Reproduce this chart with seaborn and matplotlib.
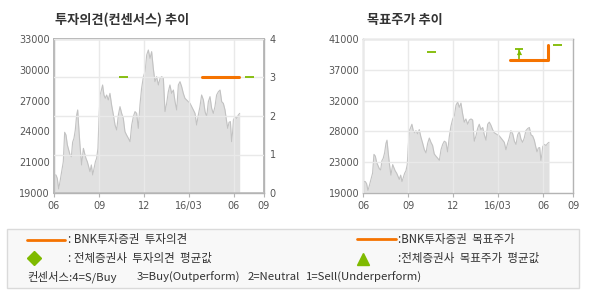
import numpy as np
import pandas as pd
import matplotlib
matplotlib.use("Agg")
import matplotlib.pyplot as plt
import seaborn as sns
from matplotlib.patches import Rectangle
from matplotlib.lines import Line2D

# ---------------- data ----------------
month = [0.00, 0.13, 0.22, 0.31, 0.40, 0.51, 0.62, 0.71, 0.80, 0.89, 0.98, 1.07, 1.16, 1.24,
         1.33, 1.42, 1.51, 1.58, 1.64, 1.73, 1.84, 1.96, 2.04, 2.13, 2.22, 2.31, 2.40, 2.49,
         2.58, 2.67, 2.76, 2.84, 2.93, 3.00, 3.07, 3.16, 3.24, 3.33, 3.42, 3.51, 3.62, 3.73,
         3.84, 3.96, 4.07, 4.18, 4.29, 4.40, 4.51, 4.62, 4.73, 4.84, 4.96, 5.07, 5.18, 5.29,
         5.40, 5.51, 5.62, 5.73, 5.84, 5.96, 6.07, 6.18, 6.29, 6.40, 6.51, 6.62, 6.73, 6.84,
         6.96, 7.07, 7.18, 7.29, 7.40, 7.51, 7.62, 7.73, 7.84, 7.96, 8.07, 8.18, 8.29, 8.40,
         8.51, 8.62, 8.73, 8.84, 8.96, 9.07, 9.18, 9.29, 9.40, 9.51, 9.62, 9.73, 9.84, 9.96,
         10.07, 10.18, 10.29, 10.40, 10.51, 10.62, 10.73, 10.84, 10.96, 11.07, 11.18, 11.29,
         11.40, 11.51, 11.58, 11.67, 11.76, 11.84, 11.91, 11.96, 12.07, 12.18, 12.29, 12.38]
price = [20640, 20640, 20330, 19370, 20030, 20940, 21850, 24520, 24270, 23370, 22910, 22460,
         22300, 23610, 23970, 24730, 26090, 26550, 25180, 23370, 21550, 23060, 22610, 22150,
         21850, 21400, 20940, 21550, 20640, 21240, 21850, 22150, 23060, 25790, 27910, 28360,
         28820, 27910, 27610, 27910, 27460, 28060, 27000, 26090, 25180, 24730, 26090, 26850,
         26240, 25790, 24580, 24270, 23970, 23670, 25180, 25940, 26400, 26240, 24880, 27000,
         28520, 29580, 30030, 31550, 32000, 31240, 31850, 30330, 29120, 29580, 28820, 29430,
         29580, 29430, 26400, 27150, 28210, 28820, 28060, 28360, 27300, 26550, 28820, 29120,
         28670, 28060, 27610, 27460, 27300, 27150, 26850, 26550, 26240, 25180, 26090, 26850,
         27910, 27460, 26400, 25940, 27300, 27760, 26700, 26240, 26850, 27910, 28210, 28360,
         27300, 27150, 26550, 25490, 24880, 25430, 25490, 23670, 24580, 25640, 25940, 25790,
         26090, 26240]

x_tick_pos = [0, 3, 6, 9, 12, 14]
x_tick_labels = ["06", "09", "12", "16/03", "06", "09"]

left_price_labels = ["19000", "21000", "24000", "27000", "30000", "33000"]
right_price_labels = ["19000", "23000", "28000", "32000", "37000", "41000"]
rating_ticks = [0, 1, 2, 3, 4]

# BNK investment opinion / consensus opinion
bnk_op_x = [9.87, 12.33]
bnk_op_y = [3, 3]
cons_op_y = [3, 3]
cons_op_x0 = [4.30, 12.70]
cons_op_x1 = [4.90, 13.30]

# BNK target price / consensus target price
bnk_tp_x = [9.78, 12.33, 12.33]
bnk_tp_y = [38000, 38000, 40200]
cons_tp_y = [39200, 40150]
cons_tp_x0 = [4.27, 12.67]
cons_tp_x1 = [4.84, 13.22]
cons_rng_x = [10.39]
cons_rng_lo = [38000]
cons_rng_hi = [39600]
cons_rng_mean = [39100]

# ---------------- style ----------------
sns.set_theme(style="white")
plt.rcParams['font.family'] = ['DejaVu Sans']
KR = ['Noto Sans CJK KR', 'DejaVu Sans']

ORANGE = '#f57300'
GREEN = '#7fba00'
FILL = '#e0e0e0'
EDGE = '#c2c2c2'
GRID = '#e9e9e9'
SPINE = '#b4b4b4'
TICKC = '#555555'

W, H = 590, 300
fig = plt.figure(figsize=(W / 100, H / 100), dpi=100)
fig.patch.set_facecolor('white')


def frac(l, t, r, b):
    return [l / W, 1 - b / H, (r - l) / W, (b - t) / H]


def base_axes(rect, ylo, yhi, labels):
    ax = fig.add_axes(rect)
    ax.set_facecolor('white')
    ax.fill_between(month, price, ylo, color=FILL, lw=0, zorder=1)
    sns.lineplot(x=month, y=price, ax=ax, color=EDGE, lw=0.8, zorder=1.5,
                 estimator=None, sort=False)
    ax.set_xlim(0, 14)
    ax.set_ylim(ylo, yhi)
    ax.set_xticks(x_tick_pos)
    ax.set_xticklabels(x_tick_labels)
    ticks = np.linspace(ylo, yhi, len(labels))
    ax.set_yticks(ticks)
    ax.set_yticklabels(labels)
    ax.set_xlabel('')
    ax.set_ylabel('')
    for s in ax.spines.values():
        s.set_color(SPINE)
        s.set_linewidth(1)
        s.set_visible(True)
    ax.tick_params(axis='x', length=3, width=0.8, color=SPINE, pad=3,
                   labelsize=7, labelcolor=TICKC, bottom=True)
    ax.tick_params(axis='y', length=0, pad=3, labelsize=7, labelcolor=TICKC, left=True)
    ax.set_axisbelow(False)
    ax.grid(axis='x', color=GRID, lw=1)
    return ax


# ---------- left chart ----------
axL = base_axes(frac(54, 39, 264, 193), 19000, 33000, left_price_labels)
ax2 = axL.twinx()
ax2.set_ylim(0, 4)
ax2.set_yticks(rating_ticks)
ax2.set_yticklabels([str(v) for v in rating_ticks])
ax2.tick_params(axis='y', length=0, pad=4, labelsize=7, labelcolor=TICKC)
ax2.grid(axis='y', color=GRID, lw=1)
ax2.set_axisbelow(False)
for s in ax2.spines.values():
    s.set_color(SPINE)
sns.lineplot(x=bnk_op_x, y=bnk_op_y, ax=ax2, color=ORANGE, lw=2.2, zorder=4,
             estimator=None, sort=False)
ax2.hlines(cons_op_y, cons_op_x0, cons_op_x1, color=GREEN, lw=1.3, zorder=4)
ax2.set_ylabel('')
fig.text(55 / W, 1 - 20 / H, '투자의견(컨센서스) 추이', family=KR, fontsize=9.5,
         fontweight='bold', color='#333333', va='center', ha='left')

# ---------- right chart ----------
axR = base_axes(frac(363.3, 39, 573.3, 193), 19000, 41000, right_price_labels)
axR.grid(axis='y', color=GRID, lw=1)
sns.lineplot(x=bnk_tp_x, y=bnk_tp_y, ax=axR, color=ORANGE, lw=2.2, zorder=4,
             estimator=None, sort=False)
axR.hlines(cons_tp_y, cons_tp_x0, cons_tp_x1, color=GREEN, lw=1.3, zorder=4)
axR.vlines(cons_rng_x, cons_rng_lo, cons_rng_hi, color=GREEN, lw=1.2, zorder=3)
axR.hlines(cons_rng_hi, [v - 0.28 for v in cons_rng_x], [v + 0.28 for v in cons_rng_x],
           color=GREEN, lw=1.3, zorder=4)
sns.scatterplot(x=cons_rng_x, y=cons_rng_mean, ax=axR, marker='^', color=GREEN,
                s=14, linewidth=0, zorder=5)
axR.set_xlim(0, 14)
axR.set_ylabel('')
fig.text(367 / W, 1 - 20 / H, '목표주가 추이', family=KR, fontsize=9.5,
         fontweight='bold', color='#333333', va='center', ha='left')

# ---------- legend box ----------
fig.add_artist(Rectangle((7 / W, 1 - 288 / H), (579 - 7) / W, (288 - 229) / H,
                         transform=fig.transFigure, facecolor='#f8f8f8',
                         edgecolor='#dadada', lw=1))
LT = dict(family=KR, fontsize=8.3, color='#333333', va='center', ha='left')
fig.add_artist(Line2D([27 / W, 65 / W], [1 - 240 / H] * 2, transform=fig.transFigure,
                      color=ORANGE, lw=2))
fig.text(68 / W, 1 - 240 / H, ': BNK투자증권  투자의견', **LT)
fig.add_artist(Line2D([34 / W], [1 - 258 / H], transform=fig.transFigure, marker='D',
                      markersize=7, color=GREEN, lw=0))
fig.text(68 / W, 1 - 258 / H, ': 전체증권사  투자의견  평균값', **LT)
fig.add_artist(Line2D([357 / W, 396 / W], [1 - 239 / H] * 2, transform=fig.transFigure,
                      color=ORANGE, lw=2))
fig.text(398 / W, 1 - 239 / H, ':BNK투자증권  목표주가', **LT)
fig.add_artist(Line2D([363 / W], [1 - 259 / H], transform=fig.transFigure, marker='^',
                      markersize=8, color=GREEN, lw=0))
fig.text(398 / W, 1 - 258 / H, ':전체증권사  목표주가  평균값', **LT)
LT3 = dict(LT, fontsize=8.2)
fig.text(27 / W, 1 - 277 / H, '컨센서스:4=S/Buy', **LT3)
fig.text(137 / W, 1 - 277 / H, '3=Buy(Outperform)', **LT3)
fig.text(248 / W, 1 - 277 / H, '2=Neutral', **LT3)
fig.text(306 / W, 1 - 277 / H, '1=Sell(Underperform)', **LT3)

fig.savefig('out.png', dpi=100, facecolor='white')
